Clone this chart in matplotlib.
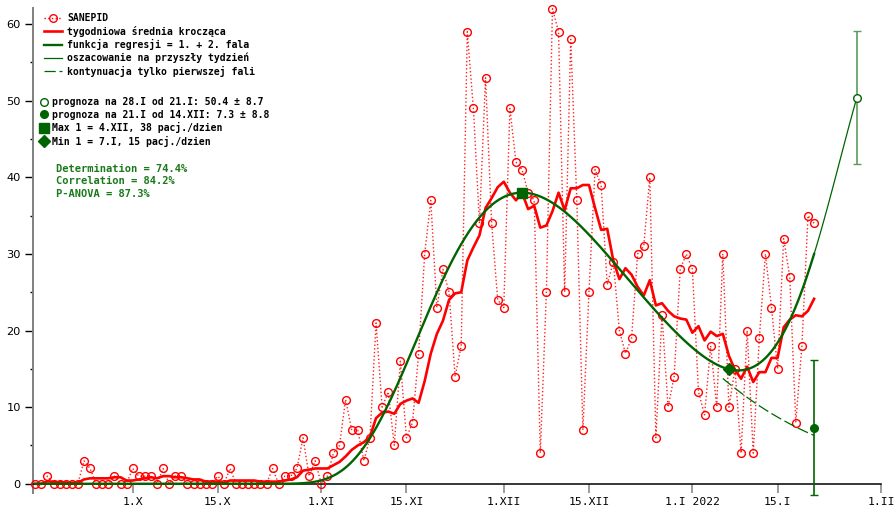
import numpy as np
import pandas as pd
import matplotlib
matplotlib.use('Agg')
import matplotlib.pyplot as plt
import matplotlib.dates as mdates
from matplotlib.lines import Line2D
from matplotlib.ticker import MultipleLocator

# Daily hospital admissions (SANEPID), 15.IX.2021 - 21.I.2022
start_date = '2021-09-15'
sanepid = [0, 0, 1, 0, 0, 0, 0, 0, 3, 2, 0, 0, 0, 1, 0, 0,
           2, 1, 1, 1, 0, 2, 0, 1, 1, 0, 0, 0, 0, 0, 1,
           0, 2, 0, 0, 0, 0, 0, 0, 2, 0, 1, 1, 2, 6, 1, 3,
           0, 1, 4, 5, 11, 7, 7, 3, 6, 21, 10, 12, 5, 16, 6, 8, 17, 30, 37, 23, 28, 25, 14, 18,
           59, 49, 34, 53, 34, 24, 23, 49, 42, 41, 38, 37, 4, 25, 62, 59, 25, 58, 37, 7, 25, 41, 39, 26,
           29, 20, 17, 19, 30, 31, 40, 6, 22, 10, 14, 28, 30, 28, 12, 9, 18, 10, 30, 10, 15, 4, 20, 4,
           19, 30, 23, 15, 32, 27, 8, 18, 35, 34]

# regression model: wave 1 (log-normal in time) + wave 2 (gaussian)
wave1_amp = 38.0
wave1_peak = '2021-12-04'
wave1_origin = '2021-10-14'
wave1_sigma = 0.35
wave2_amp = 60.0
wave2_peak = '2022-02-05'
wave2_width = 11.0

# forecasts with uncertainty
fc_dates = ['2022-01-28', '2022-01-21']
fc_values = [50.4, 7.3]
fc_errors = [8.7, 8.8]
fc_labels = ['prognoza na 28.I od 21.I: 50.4 \u00b1 8.7',
             'prognoza na 21.I od 14.XII: 7.3 \u00b1 8.8']

max_date, max_value = '2021-12-04', 38
min_date, min_value = '2022-01-07', 15

stats_labels = ['Determination = 74.4%', 'Correlation = 84.2%', 'P-ANOVA = 87.3%']

tick_dates = ['2021-10-01', '2021-10-15', '2021-11-01', '2021-11-15', '2021-12-01',
              '2021-12-15', '2022-01-01', '2022-01-15', '2022-02-01']
tick_labels = ['1.X', '15.X', '1.XI', '15.XI', '1.XII', '15.XII', '1.I 2022', '15.I', '1.II']

dates = pd.date_range(start_date, periods=len(sanepid), freq='D')
series = pd.Series(sanepid, index=dates, dtype=float)
weekly = series.rolling(7, min_periods=1).mean()

num = mdates.date2num


def wave1(t):
    t0 = num(pd.Timestamp(wave1_origin))
    tp = num(pd.Timestamp(wave1_peak))
    out = np.zeros_like(t)
    ok = t > t0
    u = np.log((t[ok] - t0) / (tp - t0))
    out[ok] = wave1_amp * np.exp(-u ** 2 / (2 * wave1_sigma ** 2))
    return out


def wave2(t):
    c = num(pd.Timestamp(wave2_peak))
    return wave2_amp * np.exp(-(t - c) ** 2 / (2 * wave2_width ** 2))


def model(t):
    return wave1(t) + wave2(t)


t_fit = np.linspace(num(dates[0]), num(dates[-1]), 800)
t_next = np.linspace(num(dates[-1]), num(pd.Timestamp(fc_dates[0])), 60)
t_cont = np.linspace(num(pd.Timestamp(min_date)) - 1, num(dates[-1]), 100)

dark_green = '#006400'
mono = 'DejaVu Sans Mono'

fig = plt.figure(figsize=(8.95, 5.09), dpi=100)
ax = fig.add_axes([33 / 895, 16 / 509, (881 - 33) / 895, (493 - 8) / 509])

ax.plot(dates, series, color='#ff2020', ls=':', lw=1.0, marker='o', mfc='none',
        mec='red', ms=5.6, mew=1.0, clip_on=False, zorder=3)
ax.plot(weekly.index, weekly.values, color='red', lw=1.9, zorder=4)
ax.plot(t_fit, model(t_fit), color=dark_green, lw=1.7, zorder=5)
ax.plot(t_next, model(t_next), color=dark_green, lw=0.9, zorder=5)
ax.plot(t_cont, wave1(t_cont), color=dark_green, lw=0.9, dashes=(9, 3), zorder=5)

# forecast points
ax.errorbar(pd.Timestamp(fc_dates[0]), fc_values[0], yerr=fc_errors[0], fmt='o',
            mfc='white', mec=dark_green, ms=5.5, mew=1.0, ecolor='#5f9a5f',
            elinewidth=1.2, capsize=3, capthick=1.0, clip_on=False, zorder=6)
ax.errorbar(pd.Timestamp(fc_dates[1]), fc_values[1], yerr=fc_errors[1], fmt='o',
            color=dark_green, ms=5.5, ecolor=dark_green, elinewidth=1.2,
            capsize=3, capthick=1.0, clip_on=False, zorder=6)
ax.plot(pd.Timestamp(max_date), max_value, 's', color=dark_green, ms=7, zorder=7)
ax.plot(pd.Timestamp(min_date), min_value, 'D', color=dark_green, ms=6.5, zorder=7)

ax.set_xlim(num(pd.Timestamp('2022-02-01')) - (881 - 33) / 6.084, num(pd.Timestamp('2022-02-01')))
ax.set_ylim(-1.2, 62.1)

for s in ['top', 'right']:
    ax.spines[s].set_visible(False)
ax.spines['bottom'].set_position(('data', 0))
ax.spines['bottom'].set_color('black')
ax.spines['bottom'].set_linewidth(1.1)
ax.spines['left'].set_color('#808080')
ax.spines['left'].set_linewidth(1.4)

ax.set_xticks([pd.Timestamp(d) for d in tick_dates])
ax.set_xticklabels(tick_labels, family=mono, fontsize=8.2)
ax.tick_params(axis='x', direction='out', length=6.5, width=1.1, color='#808080', pad=3)
ax.yaxis.set_major_locator(MultipleLocator(10))
ax.yaxis.set_minor_locator(MultipleLocator(5))
ax.tick_params(axis='y', which='major', direction='out', length=5.8, width=1.0, color='black', pad=3)
ax.tick_params(axis='y', which='minor', direction='out', length=2.2, width=1.0, color='black')
for lab in ax.get_yticklabels():
    lab.set_family('DejaVu Sans')
    lab.set_fontsize(8.2)

prop = dict(family=mono, weight='bold', size=7)
h1 = [Line2D([], [], color='red', ls=':', lw=1.0, marker='o', mfc='none', ms=5.5),
      Line2D([], [], color='red', lw=1.9),
      Line2D([], [], color=dark_green, lw=1.7),
      Line2D([], [], color=dark_green, lw=0.9),
      Line2D([], [], color=dark_green, lw=0.9, dashes=(9, 3))]
l1 = ['SANEPID', 'tygodniowa \u015brednia krocz\u0105ca', 'funkcja regresji = 1. + 2. fala',
      'oszacowanie na przysz\u0142y tydzie\u0144', 'kontynuacja tylko pierwszej fali']
leg1 = ax.legend(h1, l1, loc='upper left', bbox_to_anchor=(44 / 895, 1 - 13 / 509),
                 bbox_transform=fig.transFigure, frameon=False, prop=prop,
                 handlelength=1.9, handletextpad=0.5, labelspacing=0.26, borderpad=0,
                 borderaxespad=0)
ax.add_artist(leg1)

h2 = [Line2D([], [], ls='none', marker='o', mfc='white', mec=dark_green, ms=5.5),
      Line2D([], [], ls='none', marker='o', color=dark_green, ms=5.5),
      Line2D([], [], ls='none', marker='s', color=dark_green, ms=7),
      Line2D([], [], ls='none', marker='D', color=dark_green, ms=6.5)]
l2 = fc_labels + ['Max 1 = 4.XII, 38 pacj./dzien', 'Min 1 = 7.I, 15 pacj./dzien']
ax.legend(h2, l2, loc='upper left', bbox_to_anchor=(40 / 895, 1 - 97 / 509),
          bbox_transform=fig.transFigure, frameon=False, prop=prop,
          handlelength=0.9, handletextpad=0.3, labelspacing=0.26, borderpad=0,
          borderaxespad=0)

for i, s in enumerate(stats_labels):
    fig.text(56 / 895, 1 - (169 + 12.5 * i) / 509, s, color='#1a7a1a', family=mono,
             weight='bold', fontsize=7.5, va='center', ha='left')

plt.savefig('out.png', dpi=100)
